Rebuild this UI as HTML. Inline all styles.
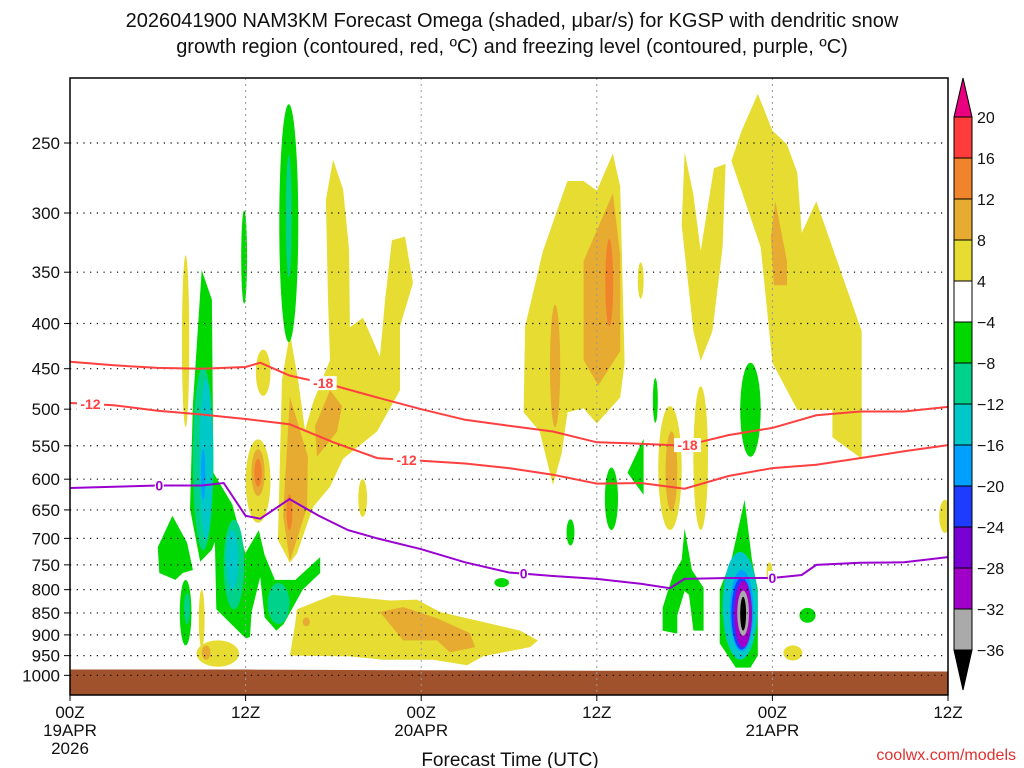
<!DOCTYPE html>
<html><head><meta charset="utf-8"><style>
html,body{margin:0;padding:0;background:#fff;}
svg{display:block;font-family:"Liberation Sans",sans-serif;}
</style></head><body>
<svg id="chart" width="1024" height="768" viewBox="0 0 1024 768">
<text x="512" y="27" text-anchor="middle" font-size="20" fill="#111">2026041900 NAM3KM Forecast Omega (shaded, μbar/s) for KGSP with dendritic snow</text>
<text x="512" y="53" text-anchor="middle" font-size="20" fill="#111">growth region (contoured, red, ºC) and freezing level (contoured, purple, ºC)</text>
<defs><clipPath id="plotclip"><rect x="70" y="78" width="878" height="617"/></clipPath></defs>
<g id="shade" clip-path="url(#plotclip)"></g>
<g id="grid"></g>
<g id="lines" clip-path="url(#plotclip)"></g>
<rect x="70" y="78" width="878" height="617" fill="none" stroke="#000" stroke-width="1.5"/>
<g id="axes"></g>
<g id="cbar"></g>
<text x="510" y="766" text-anchor="middle" font-size="19" fill="#111">Forecast Time (UTC)</text>
<text x="1016" y="760" text-anchor="end" font-size="16" fill="#e03030">coolwx.com/models</text>
</svg>
<script>
// ---- data ----
const pressureTicks=[250,300,350,400,450,500,550,600,650,700,750,800,850,900,950,1000];
const timeTicks=[0,12,24,36,48,60];
const timeLabels=[["00Z","19APR","2026"],["12Z"],["00Z","20APR"],["12Z"],["00Z","21APR"],["12Z"]];
const cbarLevels=["20","16","12","8","4","−4","−8","−12","−16","−20","−24","−28","−32","−36"];
const cbarColors=["#ff3c3c","#f0842a","#e6ab30","#e6dc32","#ffffff","#00d800","#00d28c","#00c8c8","#00a0ff","#1e3cff","#7800d2","#a000c8","#aaaaaa"];
const levelOrder=["y","o1","o2","g","t","c","b","i","p","gr","k"];
const levelColor={y:"#e6dc32",o1:"#e6ab30",o2:"#f0842a",g:"#00d800",t:"#00d28c",c:"#00c8c8",b:"#00a0ff",i:"#1e3cff",p:"#a000c8",gr:"#aaaaaa",k:"#000000"};
// elliptical regions: hour center, hour half-width, top pressure, bottom pressure, level
const ellHours=[7.9,13.2,12.85,39,41,43.1,10.1,9.0,49.4,20,59.8,47.8,
 12.85,12.85,36.85,33.15,41.1,16.15,9.3,15,
 14.95,14.95,11.9,7.9,46.5,37,40,34.2,50.4,29.5,
 8.0,9.1,11.2,14.25,9.3,11.1,45.8,9.1,45.9,45.9,46,46,46];
const ellWidth=[0.25,0.5,0.85,0.2,0.8,0.5,1.45,0.2,0.65,0.3,0.4,0.2,
 0.45,0.25,0.27,0.35,0.4,0.25,0.3,0.2,
 0.65,0.2,0.2,0.4,0.7,0.45,0.17,0.27,0.55,0.5,
 0.2,0.7,0.7,0.75,0.45,0.4,1.2,0.15,0.8,0.7,0.6,0.4,0.2];
const ellTop=[335,428,541,341,496,471,913,800,925,600,633,745,
 555,569,321,381,530,860,925,624,
 226,258,298,780,443,582,461,666,839,776,
 807,448,667,786,463,685,725,555,760,775,782,802,815];
const ellBottom=[524,483,672,375,685,685,978,930,962,662,690,785,
 627,612,403,524,652,880,960,685,
 420,355,380,925,566,685,518,713,872,795,
 875,722,842,875,703,800,960,633,940,935,930,902,890];
const ellLevel=["y","y","y","y","y","y","y","y","y","y","y","y",
 "o1","o2","o2","o1","o1","o1","o1","o2",
 "g","t","g","g","g","g","g","g","g","g",
 "t","t","t","t","c","c","c","b","b","i","p","gr","k"];
// polygon regions: vertex hours and pressures
const polyHours=[
 [47,48,49,49.7,50,51,54.1,54.1,52.1,52.1,49.7,48,47.2,45.2,45.9],
 [42,42.6,43.1,44,44.8,44.6,43.9,43.1,42.6,41.8],
 [34,35.1,36,37.1,37.6,37.9,37.6,36,35.1,34,33.6,33,32.1,31,31.1,32.3,33.7],
 [17.97,18.66,19.07,19.13,20.02,21.18,21.53,22.0,22.89,23.44,22.55,22.55,20.98,18.66,17.77,16.61,15.51,15.03,14.21,14.49,15.03,15.58,16.06,16.61,17.77,17.63,17.49],
 [15.51,17.97,21.87,23.71,25.29,30.75,31.98,31.44,28.22,27.13,24.81,21.39,19.13,15.03,15.38],
 [48.2,49,49,48.1,47.9],
 [37.1,37.6,37.6,36.1,35.1,35.1],
 [17.77,18.59,18.25,16.88,16.74],
 [15.03,16.26,16.2,15.03,14.56],
 [21.18,22.76,25.08,27.34,27.68,25.97,25.08,22.76],
 [9,9.7,9.8,11.1,12.1,12.3,12,10,9.9,9.7,8.9,8.2,8.4],
 [7,8,8.4,7.7,7.2,6.1,6],
 [12,12.9,13.3,14,15.4,17.1,17.1,15.9,14.6,14.1,13.3,13,12.4,12.3,12],
 [39.2,39.2,38.1],
 [42,42.5,43.3,43.3,42.6,42.3,42,41.5,41.5,40.5,40.5,41.2,41.8],
 [46.1,46.6,47.0,47.0,46.5,45.5,44.4,44.4,45.2]
];
const polyPress=[
 [220,242,251,270,316,291,408,569,538,501,501,443,328,262,242],
 [256,286,331,267,264,328,408,441,408,310],
 [276,276,283,257,280,443,485,519,499,504,561,609,530,504,403,332,285],
 [261,282,330,404,394,436,376,322,319,360,403,476,530,569,612,645,728,746,703,463,410,463,528,491,440,376,290],
 [842,811,823,821,848,890,913,929,952,974,960,960,952,950,875],
 [291,340,362,362,320],
 [285,335,430,470,440,340],
 [476,496,530,566,523],
 [484,566,645,743,660],
 [848,837,862,896,929,942,913,913],
 [348,376,590,641,740,905,908,842,706,721,744,648,494],
 [660,708,760,766,780,766,716],
 [727,685,731,780,780,735,766,800,875,890,860,774,849,905,908],
 [540,625,590],
 [682,760,796,890,890,811,803,855,897,890,839,770,740],
 [633,740,800,950,980,980,920,800,740]
];
const polyLevel=["y","y","y","y","y","o1","o1","o1","o1","o1","g","g","g","g","g","g"];
const groundHours=[0,12,24,36,48,60];
const groundP=[985,985,987,988,989,990];
const m18Hours=[0,3,6,9,12,13,15,18,21,24,27,30,33,36,39,42,45,48,51,54,57,60];
const m18P=[442,446,449,450,448,443,458,470,485,500,514,522,530,545,547,550,535,525,508,503,503,497];
const m12Hours=[0,3,6,9,12,15,18,21,24,27,30,33,36,39,42,45,48,51,54,57,60];
const m12P=[492,495,502,507,513,520,545,568,572,576,583,593,607,606,615,595,583,578,568,558,549];
const zeroHours=[0,3,6,9,10.5,12,13,15,17,19,21,24,27,30,33,36,39,41,42,45,48,50,51,54,57,60];
const zeroP=[614,612,610,610,606,660,665,632,660,685,700,720,745,765,772,778,788,797,778,776,776,770,750,746,745,735];
// ---- axes ----
const X=h=>70+h*(878/60);
const Y=p=>143+384*Math.log(p/250);
const NS="http://www.w3.org/2000/svg";
function mk(tag,attrs,parent){const e=document.createElementNS(NS,tag);for(const k in attrs)e.setAttribute(k,attrs[k]);parent.appendChild(e);return e;}
const shade=document.getElementById('shade'),grid=document.getElementById('grid'),lines=document.getElementById('lines'),axes=document.getElementById('axes'),cbar=document.getElementById('cbar');
levelOrder.forEach(lv=>{
  for(let i=0;i<ellHours.length;i++){
    if(ellLevel[i]!==lv)continue;
    const t=Y(ellTop[i]),b=Y(ellBottom[i]);
    const e=mk('ellipse',{cx:X(ellHours[i]),cy:(t+b)/2,rx:ellWidth[i]*878/60,ry:(b-t)/2,fill:levelColor[lv]},shade);
    
    
  }
  for(let i=0;i<polyHours.length;i++){
    if(polyLevel[i]!==lv)continue;
    const pts=polyHours[i].map((h,j)=>X(h).toFixed(1)+","+Y(polyPress[i][j]).toFixed(1)).join(" ");
    const e=mk('polygon',{points:pts,fill:levelColor[lv]},shade);
    
    
  }
});
let gp="M"+X(groundHours[0])+","+Y(groundP[0]);
for(let i=1;i<groundHours.length;i++)gp+=" L"+X(groundHours[i])+","+Y(groundP[i]);
gp+=" L"+X(60)+",700 L"+X(0)+",700 Z";
const gEl=mk('path',{d:gp,fill:"#a0522d"},shade);


pressureTicks.forEach(p=>{
  const l=mk('line',{x1:70,x2:948,y1:Y(p),y2:Y(p),stroke:"#000","stroke-width":1.2,"stroke-dasharray":"1.2,5.5"},grid);
  
  
  const tk=mk('line',{x1:64,x2:70,y1:Y(p),y2:Y(p),stroke:"#000"},axes);
  
  
  const t=mk('text',{x:60,y:Y(p)+6,"text-anchor":"end","font-size":17,fill:"#111"},axes);
  t.textContent=p;
  
  
});
timeTicks.forEach((h,i)=>{
  if(i>0&&i<timeTicks.length-1){
    const l=mk('line',{x1:X(h),x2:X(h),y1:78,y2:695,stroke:"#999","stroke-width":1,"stroke-dasharray":"2,4"},grid);
    
    
  }
  const tk=mk('line',{x1:X(h),x2:X(h),y1:695,y2:701,stroke:"#000"},axes);
  
  
  timeLabels[i].forEach((s,j)=>{
    const t=mk('text',{x:X(h),y:718+j*18,"text-anchor":"middle","font-size":17,fill:"#111"},axes);
    t.textContent=s;
    
    
  });
});
function drawLine(hs,ps,color,name){
  let d="";hs.forEach((h,i)=>{d+=(i?" L":"M")+X(h).toFixed(1)+","+Y(ps[i]).toFixed(1);});
  const e=mk('path',{d:d,fill:"none",stroke:color,"stroke-width":2},lines);
  
  
}
drawLine(m18Hours,m18P,"#ff4040","contour-minus18");
drawLine(m12Hours,m12P,"#ff4040","contour-minus12");
drawLine(zeroHours,zeroP,"#9a00d0","freezing-level-0c");
function label(h,hs,ps,txt,color){
  let k=0;while(k<hs.length-2&&hs[k+1]<h)k++;
  const f=(h-hs[k])/(hs[k+1]-hs[k]);const p=ps[k]+(ps[k+1]-ps[k])*f;
  const w=txt.length*9;
  const r=mk('rect',{x:X(h)-w/2,y:Y(p)-7,width:w,height:14,fill:"#fff"},lines);
  
  
  const t=mk('text',{x:X(h),y:Y(p)+5,"text-anchor":"middle","font-size":14,"font-weight":"bold",fill:color},lines);
  t.textContent=txt;
  
  
}
label(17.3,m18Hours,m18P,"-18","#ff4040");
label(42.2,m18Hours,m18P,"-18","#ff4040");
label(1.4,m12Hours,m12P,"-12","#ff4040");
label(23,m12Hours,m12P,"-12","#ff4040");
label(6.1,zeroHours,zeroP,"0","#9a00d0");
label(31,zeroHours,zeroP,"0","#9a00d0");
label(48,zeroHours,zeroP,"0","#9a00d0");
// colorbar
const cb0=117,cbh=(650-117)/13,cx0=954,cw=18;
const cbTop=mk('polygon',{points:`${cx0},${cb0} ${cx0+cw},${cb0} ${cx0+cw/2},78`,fill:"#e8007f",stroke:"#000"},cbar);


cbarColors.forEach((c,i)=>{
  const r=mk('rect',{x:cx0,y:cb0+i*cbh,width:cw,height:cbh,fill:c,stroke:"#000"},cbar);
  
  
});
const cbBot=mk('polygon',{points:`${cx0},650 ${cx0+cw},650 ${cx0+cw/2},690`,fill:"#000",stroke:"#000"},cbar);


cbarLevels.forEach((s,i)=>{
  const t=mk('text',{x:977,y:cb0+i*cbh+6,"font-size":16,fill:"#111"},cbar);
  t.textContent=s;
  
  
});
</script>
</body></html>
